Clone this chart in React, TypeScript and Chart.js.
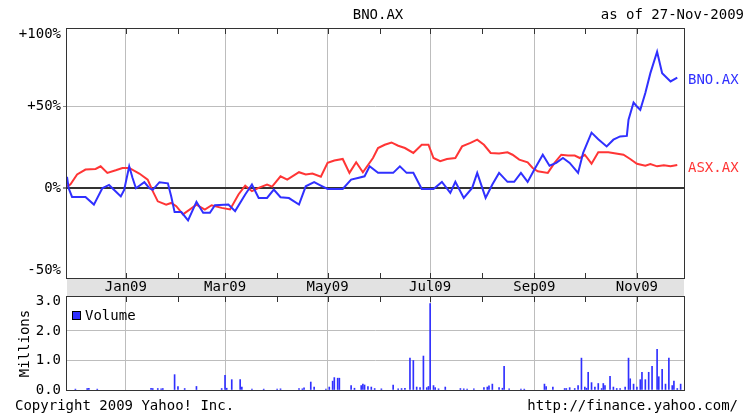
import React, { useEffect, useRef } from 'react';
import { Chart, registerables } from 'chart.js';

Chart.register(...registerables);

const W = 746;
const H = 414;
const FONT = "'DejaVu Sans Mono', monospace";
const BLUE = '#3030ff';
const RED = '#ff3535';

// x values: calendar days since 27-Nov-2008
const monthDays = [35, 66, 94, 125, 155, 186, 216, 247, 278, 308, 339];
const monthLabels = ['Jan09', '', 'Mar09', '', 'May09', '', 'Jul09', '', 'Sep09', '', 'Nov09'];
const xMin = 0;
const xMax = 367;

const pctTicks = [-50, 0, 50, 100];
const pctLabels = ['-50%', '0%', '+50%', '+100%'];
const pctMin = -54.9;
const pctMax = 97.4;

const volTicks = [0, 1, 2, 3];
const volMax = 3.15;

const bnoDays = [0, 1, 3, 11, 16, 21, 25, 29, 32, 34, 37, 39, 41, 46, 49, 51, 55, 60, 62, 64, 68, 72, 77, 81, 85, 88, 96, 100, 106, 110, 114, 119, 123, 127, 132, 138, 142, 147, 151, 155, 164, 169, 173, 177, 180, 185, 194, 198, 202, 206, 211, 218, 223, 228, 231, 236, 241, 244, 249, 253, 257, 262, 266, 270, 274, 278, 283, 287, 291, 295, 299, 304, 307, 312, 316, 321, 325, 329, 333, 334, 337, 339, 341, 344, 347, 351, 354, 359, 363];
const bnoPct = [7, 0, -5.3, -5.3, -10, 0, 2, -2, -5, -1, 13.4, 6.3, 0, 3.7, 0, -1, 3.7, 3, -5, -14.6, -14.6, -19.7, -8.3, -15, -15, -10.4, -10, -14, -3.8, 2.3, -5.9, -5.9, -0.8, -5.5, -6, -10, 1.2, 3.7, 1.6, -0.4, -0.4, 5.3, 6.3, 7.3, 13.4, 9.4, 9.4, 13.4, 9.4, 9.4, -0.4, -0.4, 3.9, -2.8, 3.9, -5.9, 0.2, 9.4, -5.9, 2.3, 9.4, 3.9, 3.9, 9.4, 3.9, 11.4, 20.5, 13.8, 15.5, 18.5, 15.5, 9.4, 21.6, 34, 30, 25.6, 29.7, 31.7, 32, 41.9, 52.4, 50, 48, 58.2, 70.4, 83.5, 70.4, 65.3, 67.7];

const asxDays = [0, 2, 6, 11, 17, 20, 24, 29, 33, 37, 43, 48, 51, 54, 59, 62, 65, 69, 77, 82, 86, 92, 97, 102, 106, 110, 114, 119, 122, 127, 131, 138, 142, 146, 151, 155, 159, 164, 168, 172, 176, 182, 185, 189, 193, 197, 201, 206, 211, 215, 218, 222, 226, 231, 235, 240, 244, 248, 252, 257, 262, 265, 269, 274, 277, 280, 286, 290, 294, 298, 302, 305, 308, 312, 316, 322, 331, 335, 339, 344, 347, 351, 355, 359, 363];
const asxPct = [1.2, 2.3, 8.4, 11.4, 11.8, 13.4, 9.4, 11, 12.4, 12.4, 9, 5.3, -1.8, -8, -10, -9, -11, -16, -10, -13, -10.4, -12, -13, -3.8, 1.6, -1.8, 0.2, 2.3, 1, 7.3, 5.3, 9.8, 8.4, 9, 7, 15.5, 17, 17.9, 9.4, 15.9, 9.8, 18.5, 24.6, 26.6, 28, 26, 24.6, 21.6, 26.6, 26.6, 18.5, 16.5, 17.9, 18.5, 25.6, 27.7, 29.7, 26.6, 21.6, 21.2, 22, 20.5, 17.5, 15.9, 12.4, 10.4, 9.4, 15.5, 20.5, 20, 20, 18.5, 20.5, 15, 22, 22, 20.5, 17.9, 15, 13.8, 14.8, 13.4, 14, 13.4, 14.2];

const volDays = [5, 12, 13, 18, 50, 51, 54, 56, 57, 64, 66, 70, 77, 92, 94, 95, 98, 103, 104, 110, 117, 125, 127, 138, 140, 141, 145, 147, 154, 156, 158, 159, 161, 162, 169, 171, 175, 176, 177, 179, 181, 183, 187, 194, 197, 199, 201, 204, 206, 208, 210, 212, 214, 215, 216, 218, 219, 221, 225, 234, 236, 238, 242, 248, 250, 251, 253, 257, 259, 260, 263, 270, 272, 284, 285, 289, 296, 297, 299, 302, 304, 306, 308, 309, 310, 312, 314, 316, 318, 319, 320, 323, 325, 327, 329, 332, 334, 335, 337, 339, 341, 342, 344, 346, 348, 351, 352, 354, 356, 358, 360, 361, 363, 365];
const volMillions = [0.03, 0.05, 0.06, 0.03, 0.06, 0.05, 0.05, 0.04, 0.05, 0.52, 0.12, 0.05, 0.12, 0.05, 0.5, 0.06, 0.35, 0.35, 0.1, 0.03, 0.03, 0.03, 0.04, 0.05, 0.04, 0.07, 0.27, 0.1, 0.03, 0.1, 0.3, 0.42, 0.4, 0.4, 0.15, 0.06, 0.15, 0.2, 0.17, 0.12, 0.1, 0.05, 0.04, 0.17, 0.04, 0.05, 0.06, 1.08, 1.0, 0.1, 0.08, 1.15, 0.08, 0.12, 2.93, 0.15, 0.08, 0.04, 0.1, 0.05, 0.04, 0.03, 0.04, 0.08, 0.1, 0.14, 0.2, 0.08, 0.06, 0.8, 0.04, 0.03, 0.03, 0.2, 0.12, 0.1, 0.05, 0.05, 0.08, 0.05, 0.15, 1.08, 0.1, 0.06, 0.6, 0.25, 0.1, 0.22, 0.05, 0.22, 0.15, 0.46, 0.1, 0.05, 0.05, 0.1, 1.08, 0.38, 0.2, 0.1, 0.35, 0.6, 0.35, 0.6, 0.8, 1.38, 0.45, 0.7, 0.2, 1.08, 0.15, 0.3, 0.05, 0.2];

const GRID = '#bdbdbd';
const FRAME = '#333333';
const CLEAR = 'rgba(0,0,0,0)';

function drawMonthTicks(chart: any, top: boolean, bottom: boolean) {
  const { ctx, chartArea: a, scales } = chart;
  const xs = scales.x;
  ctx.save();
  ctx.strokeStyle = FRAME;
  ctx.lineWidth = 1;
  ctx.beginPath();
  monthDays.forEach((d) => {
    const x = Math.round(xs.getPixelForValue(d)) + 0.5;
    if (top) {
      ctx.moveTo(x, a.top);
      ctx.lineTo(x, a.top + 5);
    }
    if (bottom) {
      ctx.moveTo(x, a.bottom - 5);
      ctx.lineTo(x, a.bottom);
    }
  });
  ctx.stroke();
  ctx.strokeRect(Math.round(a.left) - 0.5, Math.round(a.top) - 0.5, Math.round(a.right - a.left) + 1, Math.round(a.bottom - a.top) + 1);
  ctx.restore();
}

const mainFramePlugin = {
  id: 'mainFrame',
  beforeDraw(chart: any) {
    const { ctx, chartArea: a } = chart;
    ctx.save();
    ctx.fillStyle = '#e2e2e2';
    ctx.fillRect(a.left, a.bottom, a.right - a.left, 18);
    ctx.restore();
  },
  afterDatasetsDraw(chart: any) {
    drawMonthTicks(chart, true, true);
    const { ctx, chartArea: a } = chart;
    ctx.save();
    ctx.font = `14px ${FONT}`;
    ctx.textAlign = 'left';
    ctx.textBaseline = 'middle';
    chart.data.datasets.forEach((ds: any, i: number) => {
      const meta = chart.getDatasetMeta(i);
      const last = meta.data[meta.data.length - 1];
      ctx.fillStyle = ds.borderColor;
      ctx.fillText(ds.label, a.right + 4, last.y + 3);
    });
    ctx.restore();
  },
};

const volFramePlugin = {
  id: 'volFrame',
  afterDatasetsDraw(chart: any) {
    drawMonthTicks(chart, true, false);
    const { ctx, chartArea: a } = chart;
    const ds = chart.data.datasets[0];
    ctx.save();
    ctx.fillStyle = ds.backgroundColor;
    ctx.fillRect(a.left + 5, a.top + 14, 9, 9);
    ctx.strokeStyle = '#000';
    ctx.lineWidth = 1;
    ctx.strokeRect(a.left + 5.5, a.top + 14.5, 8, 8);
    ctx.fillStyle = '#000';
    ctx.font = `14px ${FONT}`;
    ctx.textBaseline = 'middle';
    ctx.fillText(ds.label, a.left + 18, a.top + 19);
    ctx.restore();
  },
};

const tickFont = { family: FONT, size: 14 };

export default function App() {
  const mainRef = useRef<HTMLCanvasElement>(null);
  const volRef = useRef<HTMLCanvasElement>(null);

  useEffect(() => {
    const main = new Chart(mainRef.current as HTMLCanvasElement, {
      type: 'line',
      data: {
        datasets: [
          {
            label: 'BNO.AX',
            data: bnoDays.map((d, i) => ({ x: d, y: bnoPct[i] })),
            borderColor: BLUE,
            backgroundColor: BLUE,
            borderWidth: 2,
            pointRadius: 0,
            tension: 0,
          },
          {
            label: 'ASX.AX',
            data: asxDays.map((d, i) => ({ x: d, y: asxPct[i] })),
            borderColor: RED,
            backgroundColor: RED,
            borderWidth: 2,
            pointRadius: 0,
            tension: 0,
          },
        ],
      },
      options: {
        animation: false,
        responsive: false,
        devicePixelRatio: 1,
        layout: { padding: { left: 0, top: 29, right: 62, bottom: 118 } },
        plugins: { legend: { display: false }, tooltip: { enabled: false }, title: { display: false } },
        scales: {
          x: {
            type: 'linear',
            min: xMin,
            max: xMax,
            afterBuildTicks: (s: any) => {
              s.ticks = monthDays.map((v) => ({ value: v }));
            },
            afterFit: (s: any) => {
              s.height = 18;
            },
            ticks: {
              autoSkip: false,
              maxRotation: 0,
              padding: 1,
              color: '#000',
              font: tickFont,
              callback: (_v: any, i: number) => monthLabels[i],
            },
            grid: {
              drawTicks: false,
              color: (c: any) => (monthLabels[c.index] ? GRID : CLEAR),
              lineWidth: 1,
            },
            border: { display: false },
          },
          y: {
            type: 'linear',
            min: pctMin,
            max: pctMax,
            afterBuildTicks: (s: any) => {
              s.ticks = pctTicks.map((v) => ({ value: Math.min(pctMax - 3.5, Math.max(pctMin + 1.2, v)) }));
            },
            afterFit: (s: any) => {
              s.width = 67;
            },
            ticks: {
              autoSkip: false,
              padding: 2,
              color: '#000',
              font: tickFont,
              callback: (_v: any, i: number) => pctLabels[i],
            },
            grid: {
              tickLength: 4,
              color: (c: any) => (c.index === 1 ? FRAME : c.index === 2 ? GRID : CLEAR),
              tickColor: (c: any) => (c.index === 1 || c.index === 2 ? '#888' : CLEAR),
              lineWidth: (c: any) => (c.index === 1 ? 2 : 1),
            },
            border: { display: false },
          },
        },
      },
      plugins: [mainFramePlugin],
    } as any);

    const vol = new Chart(volRef.current as HTMLCanvasElement, {
      type: 'bar',
      data: {
        datasets: [
          {
            label: 'Volume',
            data: volDays.map((d, i) => ({ x: d, y: volMillions[i] })),
            backgroundColor: BLUE,
            borderWidth: 0,
            barThickness: 1,
          },
        ],
      },
      options: {
        animation: false,
        responsive: false,
        devicePixelRatio: 1,
        layout: { padding: { left: 0, top: 297, right: 62, bottom: 24 } },
        plugins: { legend: { display: false }, tooltip: { enabled: false } },
        scales: {
          x: {
            type: 'linear',
            min: xMin,
            max: xMax,
            offset: false,
            afterBuildTicks: (s: any) => {
              s.ticks = monthDays.map((v) => ({ value: v }));
            },
            afterFit: (s: any) => {
              s.height = 0;
            },
            ticks: { display: false, autoSkip: false },
            grid: {
              offset: false,
              drawTicks: false,
              color: (c: any) => (monthLabels[c.index] ? GRID : CLEAR),
            },
            border: { display: false },
          },
          y: {
            type: 'linear',
            min: 0,
            max: volMax,
            afterBuildTicks: (s: any) => {
              s.ticks = volTicks.map((v) => ({ value: v }));
            },
            afterFit: (s: any) => {
              s.width = 67;
            },
            title: {
              display: true,
              text: 'Millions',
              color: '#000',
              font: tickFont,
              padding: { top: 17, bottom: 0 },
            },
            ticks: {
              autoSkip: false,
              padding: 6,
              color: '#000',
              font: tickFont,
              callback: (v: any) => Number(v).toFixed(1),
            },
            grid: {
              drawTicks: false,
              color: (c: any) => (c.index === 1 || c.index === 2 ? GRID : CLEAR),
            },
            border: { display: false },
          },
        },
      },
      plugins: [volFramePlugin],
    } as any);

    return () => {
      main.destroy();
      vol.destroy();
    };
  }, []);

  const textStyle: React.CSSProperties = {
    position: 'absolute',
    fontFamily: FONT,
    fontSize: 14,
    lineHeight: '17px',
    color: '#000',
    whiteSpace: 'nowrap',
  };

  return (
    <div style={{ position: 'relative', width: W, height: H, background: '#fff', overflow: 'hidden' }}>
      <style>{'body{margin:0}'}</style>
      <canvas ref={mainRef} width={W} height={H} style={{ position: 'absolute', left: 0, top: 0, width: W, height: H }} />
      <canvas ref={volRef} width={W} height={H} style={{ position: 'absolute', left: 0, top: 0, width: W, height: H }} />
      <div style={{ ...textStyle, left: 378, top: 6, transform: 'translateX(-50%)' }}>BNO.AX</div>
      <div style={{ ...textStyle, right: 2, top: 6 }}>as of 27-Nov-2009</div>
      <div style={{ ...textStyle, left: 15, top: 397 }}>Copyright 2009 Yahoo! Inc.</div>
      <div style={{ ...textStyle, right: 8, top: 397 }}>http://finance.yahoo.com/</div>
    </div>
  );
}
